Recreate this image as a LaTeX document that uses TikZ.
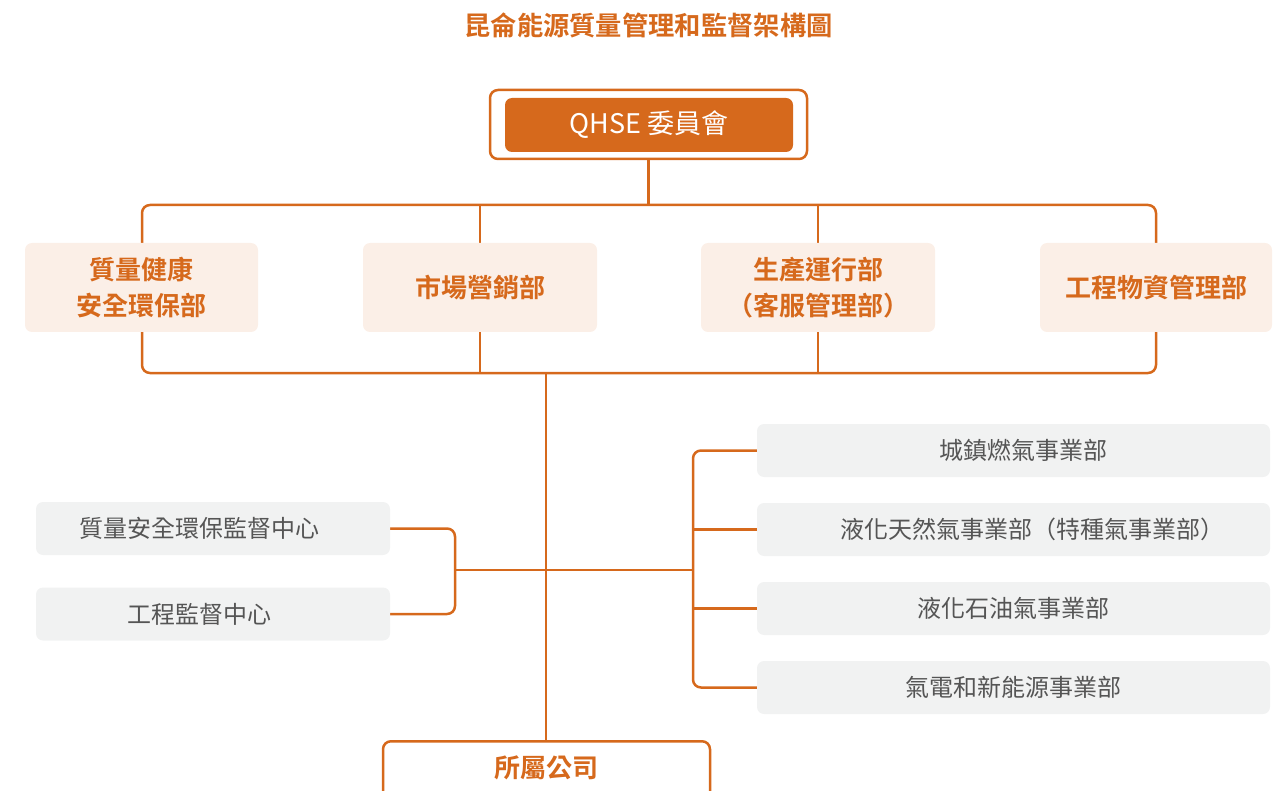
\documentclass[tikz,border=0pt]{standalone}
\usepackage{fontspec}
\setmainfont{Noto Sans CJK TC}[BoldFont={Noto Sans CJK TC Bold}]
\usetikzlibrary{backgrounds}
\definecolor{org}{HTML}{D6691C}
\definecolor{peach}{HTML}{FBEFE7}
\definecolor{lgray}{HTML}{F1F2F2}
\definecolor{dtext}{HTML}{555555}
\tikzset{
  conn/.style={draw=org, line width=2.5pt, rounded corners=8pt},
  deptbox/.style={fill=peach, rounded corners=7pt, minimum width=233pt, minimum height=89pt, inner sep=0pt, text=org, align=center, font=\fontsize{26}{36}\selectfont\bfseries},
  graybox/.style={fill=lgray, rounded corners=7pt, minimum height=53pt, inner sep=0pt},
  graytext/.style={text=dtext, font=\fontsize{24}{28}\selectfont, inner sep=0pt},
}
\begin{document}
\begin{tikzpicture}[x=1pt,y=-1pt]
\clip (0,0) rectangle (1287,791);
\useasboundingbox (0,0) rectangle (1287,791);
% title
\node[text=org, font=\fontsize{26.3}{30}\selectfont\bfseries] (title) at (648.5,25) {昆侖能源質量管理和監督架構圖};
% QHSE
\node[draw=org, line width=2.5pt, fill=white, rounded corners=8pt, minimum width=317pt, minimum height=69pt] (qo) at (648.5,124.5) {};
\node[fill=org, rounded corners=7pt, minimum width=288pt, minimum height=54pt, inner sep=0pt, text=white, font=\fontsize{27}{30}\selectfont] (qi) at (649,125) {QHSE 委員會};
% departments
\node[deptbox] (d1) at (141.5,287.5) {質量健康\\安全環保部};
\node[deptbox, minimum width=234pt] (d2) at (480,287.5) {市場營銷部};
\node[deptbox, minimum width=234pt] (d3) at (818,287.5) {生產運行部\\（客服管理部）};
\node[deptbox, minimum width=232pt] (d4) at (1156,287.5) {工程物資管理部};
% left boxes
\node[graybox, minimum width=354pt] (l1) at (213,528.5) {};
\node[graytext] at (199,528.5) {質量安全環保監督中心};
\node[graybox, minimum width=354pt] (l2) at (213,614) {};
\node[graytext] at (199,614) {工程監督中心};
% right boxes
\node[graybox, minimum width=513pt] (r1) at (1013.5,450.5) {};
\node[graytext] at (1023,450.5) {城鎮燃氣事業部};
\node[graybox, minimum width=513pt] (r2) at (1013.5,529.5) {};
\node[graytext] at (1032,529.5) {液化天然氣事業部（特種氣事業部）};
\node[graybox, minimum width=513pt] (r3) at (1013.5,608.5) {};
\node[graytext] at (1013.5,608.5) {液化石油氣事業部};
\node[graybox, minimum width=513pt] (r4) at (1013.5,687.5) {};
\node[graytext] at (1013.5,687.5) {氣電和新能源事業部};
% bottom
\node[draw=org, line width=2.5pt, fill=white, rounded corners=8pt, minimum width=327pt, minimum height=80pt, anchor=north] (bot) at (546.5,740) {};
\node[text=org, font=\fontsize{26}{30}\selectfont\bfseries] (bott) at (546.5,768) {所屬公司};
% connectors
\coordinate (tl) at (142,205);
\coordinate (br) at (1156,373);
\coordinate (trunk) at (546,373);
\coordinate (lb) at (455,570);
\coordinate (rb) at (693,570);
\begin{scope}[on background layer]
\draw[conn] (tl) rectangle (br);
\draw[conn] (qo.south) -- (qo.south |- tl);
\draw[conn] (d2.center |- tl) -- (d2.center |- br);
\draw[conn] (d3.center |- tl) -- (d3.center |- br);
\draw[conn] (trunk) -- (trunk |- bot.north);
\draw[conn] (l1.east) -| (lb) |- (l2.east);
\draw[conn] (lb) -- (rb);
\draw[conn] (r1.west) -| (rb) |- (r4.west);
\draw[conn] (r2.west) -- (r2.west -| rb);
\draw[conn] (r3.west) -- (r3.west -| rb);
\end{scope}
\end{tikzpicture}
\end{document}
